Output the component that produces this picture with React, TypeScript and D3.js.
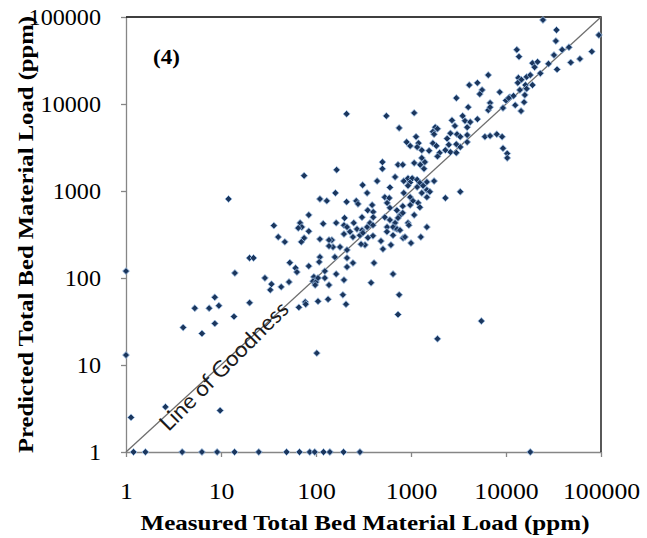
import { useEffect, useRef } from 'react';
import * as d3 from 'd3';

// measured vs predicted total bed material load (ppm)
const points: [number, number][] = [
  [24500, 92500], [34000, 71000], [33500, 53000], [95000, 62000], [13000, 42000], [13700, 35000],
  [39000, 42000], [46000, 45000], [32000, 36500], [80000, 40000], [60000, 33000], [48000, 30000],
  [28000, 29000], [34500, 25000], [19000, 29500], [21500, 30500], [20000, 26500],
  [6500, 21500], [23000, 22500], [13500, 20000], [14500, 19000], [16500, 20500], [18000, 21500],
  [13300, 17500], [16000, 16500], [19000, 16500], [14000, 14500], [16500, 15000], [8600, 13700],
  [4100, 16500], [5000, 17500], [5600, 14500], [5300, 13000], [11000, 12000], [12000, 12400],
  [10000, 11000], [10700, 11700], [15800, 12700], [15500, 10500], [3000, 11700],
  [12500, 9700], [14400, 8300], [9300, 9000], [6800, 10300], [6500, 8500], [6800, 9200], [4000, 9200],
  [3500, 7300], [3700, 6400], [4200, 6200], [5000, 6700], [2700, 6500], [2900, 5600], [2600, 4600],
  [3050, 4500], [3300, 4200], [3900, 5400], [3900, 4400], [3900, 3650], [6000, 4200], [6800, 4300],
  [8000, 4500], [9100, 4200], [9300, 3100], [10300, 2700], [10300, 2400],
  [210, 7700], [550, 7300], [1080, 7900], [1800, 5400], [1900, 5200], [1700, 4800], [1750, 4500],
  [750, 5300], [1130, 4200], [900, 3650], [980, 3300], [1200, 3550], [1160, 3200], [1300, 2950],
  [1550, 2900], [1700, 3550], [1850, 3300], [2400, 4000], [2500, 3400], [2300, 2950], [2600, 2800],
  [3000, 2750], [3000, 3450], [3300, 3200], [2000, 2750], [1900, 2500], [1300, 2400], [1400, 2150],
  [1250, 2000], [1370, 1800],
  [500, 2150], [500, 1800], [730, 2000], [820, 2000], [1080, 2100], [165, 1750], [75, 1500], [12, 810],
  [680, 1450], [840, 1300], [930, 1400], [1030, 1400], [1160, 1350], [975, 1250], [930, 1150],
  [1240, 1240], [1470, 1270], [1750, 1300], [440, 1300], [310, 1170], [600, 1100], [1160, 1110],
  [1340, 1150], [1470, 1030], [1300, 950], [1470, 850], [1580, 980], [160, 950], [345, 950], [840, 950],
  [980, 850], [1050, 770], [980, 690], [820, 670], [1190, 730], [1240, 650], [530, 850], [590, 830],
  [560, 730], [600, 640], [2300, 830], [3300, 980], [210, 750], [265, 770], [277, 710], [110, 810],
  [130, 770], [390, 690], [350, 600], [400, 575], [400, 500], [710, 600], [770, 530], [820, 560],
  [730, 490], [1080, 530],
  [530, 500], [600, 465], [680, 430], [560, 385], [680, 375], [930, 430], [950, 405], [1470, 385],
  [163, 430], [200, 490], [197, 405], [212, 385], [250, 430], [197, 320], [228, 340], [270, 365],
  [305, 355], [290, 310], [312, 330], [345, 385], [370, 430], [398, 405], [398, 305], [352, 290],
  [328, 240], [298, 245], [558, 340], [647, 385], [647, 310], [713, 365], [766, 355], [483, 266],
  [615, 240], [507, 215], [824, 288], [865, 296], [1000, 252], [1270, 296], [179, 227], [212, 210],
  [147, 273], [151, 227], [245, 296], [305, 500],
  [84, 530], [36, 400], [68, 430], [71, 385], [65, 375], [119, 420], [84, 345], [40, 296], [47, 260],
  [75, 288], [70, 260], [110, 280], [137, 273], [137, 233], [20, 170], [22, 170], [110, 174], [158, 174],
  [53, 150], [61, 130], [63, 117], [108, 153], [84, 137], [14, 114], [29, 100], [34, 85], [33, 73],
  [43, 79], [52, 90], [124, 120], [95, 103], [93, 92], [100, 90], [105, 100], [98, 83], [124, 100],
  [163, 111], [137, 83], [197, 95], [380, 88], [750, 64], [212, 170], [212, 134], [245, 149], [408, 149],
  [647, 111], [192, 64], [207, 50], [730, 38],
  [8.6, 60], [7.5, 45], [5.3, 45], [9.5, 48], [8.6, 30], [20, 52], [13.7, 36], [66, 46], [77, 53],
  [78, 50], [105, 54], [134, 57], [6.3, 23], [4.0, 27], [102, 13.7], [1, 120], [1, 13], [1.13, 2.5],
  [2.6, 3.3], [9.8, 3.0], [1900, 20], [5500, 32],
];

// samples where the prediction sits on the floor of the axis (1 ppm)
const floorMeasured = [1.2, 1.6, 3.9, 6.3, 9.1, 13.9, 25, 49, 67, 86, 97, 120, 140, 195, 290, 18000];
const floorPredicted = 1;

const ticks = [1, 10, 100, 1000, 10000, 100000];
const xTitle = 'Measured Total Bed Material Load (ppm)';
const yTitle = 'Predicted Total Bed Material Load (ppm)';
const panelLabel = '(4)';
const lineLabel = 'Line of Goodness';

const width = 647;
const height = 538;
const margin = { left: 126, right: 46, top: 17, bottom: 86 };
const serif = '"Liberation Serif", "Times New Roman", serif';

// the original figure is a little wider than tall, so its text is stretched
const stretch = (sel: d3.Selection<any, any, any, any>, factor: number) =>
  sel.each(function (this: SVGTextElement) {
    const w = this.getComputedTextLength();
    d3.select(this).attr('textLength', w * factor).attr('lengthAdjust', 'spacingAndGlyphs');
  });

const App = () => {
  const ref = useRef<SVGSVGElement | null>(null);

  useEffect(() => {
    if (!ref.current) return;
    const svg = d3.select(ref.current);
    svg.selectAll('*').remove();

    const x = d3.scaleLog().domain([1, 100000]).range([margin.left, width - margin.right]);
    const y = d3.scaleLog().domain([1, 100000]).range([height - margin.bottom, margin.top]);
    const axisGrey = '#868686';

    // x axis
    const gx = svg
      .append('g')
      .attr('transform', `translate(0, ${height - margin.bottom})`)
      .call(d3.axisBottom(x).tickValues(ticks).tickSize(5).tickSizeOuter(0).tickPadding(26).tickFormat(d3.format('d')));
    gx.select('.domain').attr('stroke', axisGrey).attr('stroke-width', 1.3);
    gx.selectAll('.tick line').attr('stroke', axisGrey).attr('stroke-width', 1.3);
    stretch(gx.selectAll('.tick text').attr('font-family', serif).attr('font-size', 23).attr('fill', '#000'), 1.12);

    // y axis
    const gy = svg
      .append('g')
      .attr('transform', `translate(${margin.left}, 0)`)
      .call(d3.axisLeft(y).tickValues(ticks).tickSize(5).tickSizeOuter(0).tickPadding(20).tickFormat(d3.format('d')));
    gy.select('.domain').attr('stroke', axisGrey).attr('stroke-width', 1.3);
    gy.selectAll('.tick line').attr('stroke', axisGrey).attr('stroke-width', 1.3);
    stretch(gy.selectAll('.tick text').attr('font-family', serif).attr('font-size', 23).attr('fill', '#000'), 1.05);

    // top and right frame
    svg
      .append('path')
      .attr('d', `M${x(1)},${y(100000)}H${x(100000)}V${y(1)}`)
      .attr('fill', 'none')
      .attr('stroke', '#000')
      .attr('stroke-width', 1.3);

    // line of goodness
    svg
      .append('line')
      .attr('x1', x(1))
      .attr('y1', y(1))
      .attr('x2', x(100000))
      .attr('y2', y(100000))
      .attr('stroke', '#6e6e6e')
      .attr('stroke-width', 1.3);

    svg
      .append('text')
      .attr('transform', `translate(${x(1)}, ${y(1)}) rotate(-45)`)
      .attr('x', 44)
      .attr('y', 16)
      .attr('font-family', 'Lato, "Liberation Sans", sans-serif')
      .attr('font-size', 22)
      .attr('textLength', 172)
      .attr('lengthAdjust', 'spacingAndGlyphs')
      .attr('fill', '#1a1a1a')
      .text(lineLabel);

    // points: Excel-style diamonds
    const marker = d3.symbol().type(d3.symbolSquare).size(24);
    const all = points.concat(floorMeasured.map((m) => [m, floorPredicted] as [number, number]));
    svg
      .append('g')
      .selectAll('path')
      .data(all)
      .enter()
      .append('path')
      .attr('d', marker)
      .attr('transform', (d) => `translate(${x(d[0])}, ${y(d[1])}) rotate(45)`)
      .attr('fill', '#1b365d')
      .attr('stroke', '#9fc0e6')
      .attr('stroke-width', 0.8);

    stretch(
      svg
        .append('text')
        .attr('x', 153)
        .attr('y', 64)
        .attr('font-family', serif)
        .attr('font-weight', 'bold')
        .attr('font-size', 20)
        .text(panelLabel),
      1.15,
    );

    svg
      .append('text')
      .attr('x', 365)
      .attr('y', 530)
      .attr('text-anchor', 'middle')
      .attr('font-family', serif)
      .attr('font-weight', 'bold')
      .attr('font-size', 21)
      .attr('textLength', 449)
      .attr('lengthAdjust', 'spacingAndGlyphs')
      .text(xTitle);

    svg
      .append('text')
      .attr('transform', `translate(33, ${(y(1) + y(100000)) / 2}) rotate(-90)`)
      .attr('text-anchor', 'middle')
      .attr('font-family', serif)
      .attr('font-weight', 'bold')
      .attr('font-size', 21)
      .attr('textLength', 437)
      .attr('lengthAdjust', 'spacingAndGlyphs')
      .text(yTitle);
  }, []);

  return (
    <div>
      <svg ref={ref} width={width} height={height} style={{ position: 'absolute', left: 0, top: 0, background: '#fff' }} />
    </div>
  );
};

export default App;
